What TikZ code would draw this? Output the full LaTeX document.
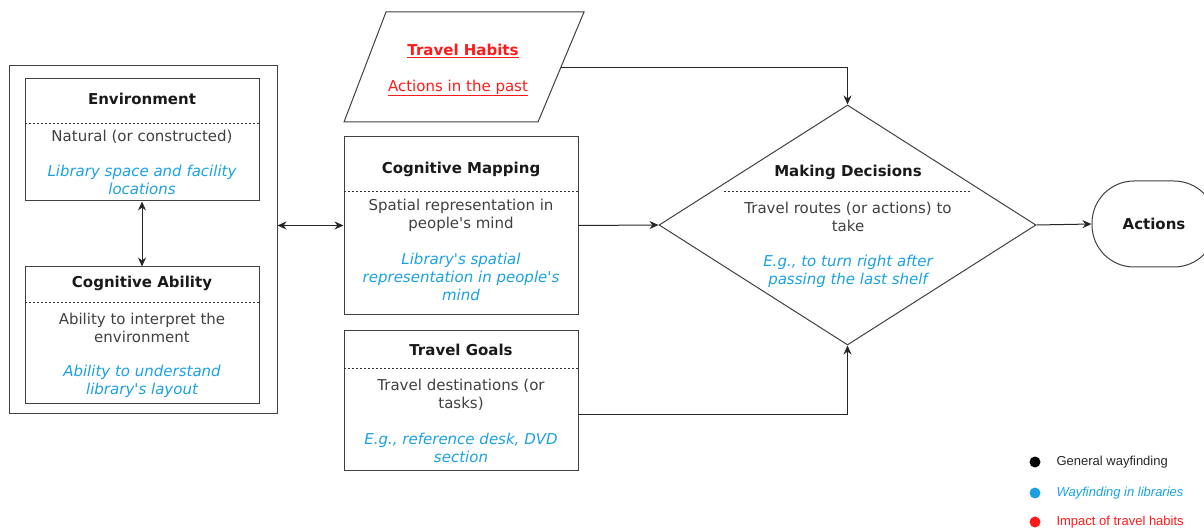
\documentclass[tikz,border=0pt]{standalone}
\usepackage{fontspec}
\setmainfont{DejaVu Sans}[Ligatures=TeXOff]
\newfontfamily\legendfont{Liberation Sans}
\usetikzlibrary{shapes.geometric,arrows.meta}
\definecolor{libblue}{HTML}{1BA1E2}
\definecolor{habred}{HTML}{FF1A1A}
\definecolor{txtgray}{HTML}{404040}
\begin{document}
\begin{tikzpicture}[x=1pt,y=-1pt,
 box/.style={draw=black!75,line width=1pt,inner sep=0pt,minimum width=234pt},
 ttl/.style={font=\fontsize{15}{18}\selectfont\bfseries,text=black!90,align=center},
 gen/.style={font=\fontsize{15}{18}\selectfont,text=txtgray,align=center},
 lib/.style={font=\fontsize{15}{18}\selectfont\itshape,text=libblue,align=center},
 hab/.style={font=\fontsize{15}{18}\selectfont,text=habred,align=center},
 sepline/.style={draw=black!80,dash pattern=on 2pt off 2pt,line width=0.8pt},
 conn/.style={draw=black!85,line width=1pt,-{Stealth[length=9pt,width=8pt]}},
 dconn/.style={draw=black!85,line width=1pt,{Stealth[length=9pt,width=8pt]}-{Stealth[length=9pt,width=8pt]}},
 leg/.style={font=\legendfont\fontsize{13}{15}\selectfont,anchor=west}
]
\useasboundingbox (0,0) rectangle (1204,529);

% left group
\node[box,minimum width=268pt,minimum height=347pt] (outer) at (143,239.5) {};
\node[box,minimum height=122pt] (env) at (142,140) {};
\node[ttl] (envT) at (142,99) {Environment};
\draw[sepline] (25,123) -- (259,123);
\node[gen] (envG) at (142,137) {Natural (or constructed)};
\node[lib] (envL) at (142,180) {Library space and facility\\locations};

\node[box,minimum height=136pt] (ca) at (142,335) {};
\node[ttl] (caT) at (142,283) {Cognitive Ability};
\draw[sepline] (25,302) -- (259,302);
\node[gen] (caG) at (142,328) {Ability to interpret the\\environment};
\node[lib] (caL) at (142,381) {Ability to understand\\library's layout};

\draw[dconn] (env.south) -- (ca.north);

% travel habits
\draw[draw=black!75,line width=1pt] (386,12) coordinate (thA) -- (584,12) coordinate (thB)
  -- (538,122) coordinate (thC) -- (344,122) coordinate (thD) -- cycle;
\coordinate (thR) at (560.6,68);
\node[hab,font=\fontsize{15}{18}\selectfont\bfseries] (thT) at (463,51) {\underline{Travel Habits}};
\node[hab] (thS) at (458,88) {\underline{Actions in the past}};

% cognitive mapping
\node[box,minimum height=177pt] (cm) at (461,225.5) {};
\node[ttl] (cmT) at (461,169) {Cognitive Mapping};
\draw[sepline] (344,191) -- (578,191);
\node[gen] (cmG) at (461,215) {Spatial representation in\\people's mind};
\node[lib] (cmL) at (461,277) {Library's spatial\\representation in people's\\mind};

% travel goals
\node[box,minimum height=140pt] (tg) at (461,400) {};
\node[ttl] (tgT) at (461,350) {Travel Goals};
\draw[sepline] (344,368) -- (578,368);
\node[gen] (tgG) at (461,395) {Travel destinations (or\\tasks)};
\node[lib] (tgL) at (461,448) {E.g., reference desk, DVD\\section};

% making decisions
\node[draw=black!75,line width=1pt,diamond,inner sep=0pt,minimum width=377pt,minimum height=240pt] (md) at (847.5,225) {};
\node[ttl] (mdT) at (848,172) {Making Decisions};
\draw[sepline] (724,191) -- (970,191);
\node[gen] (mdG) at (848,217) {Travel routes (or actions) to\\take};
\node[lib] (mdL) at (848,271) {E.g., to turn right after\\passing the last shelf};

% actions
\node[draw=black!75,line width=1pt,rounded corners=42pt,minimum width=124pt,minimum height=86pt,inner sep=0pt] (act) at (1154,224) {};
\node[ttl] (actT) at (1154,224) {Actions};

% connectors
\draw[dconn] (outer.east |- cm.west) -- (cm.west);
\draw[conn] (cm.east) -- (md.west);
\draw[conn] (thR) -| (md.north);
\draw[conn] ([yshift=-14pt]tg.east) -| (md.south);
\draw[conn] (md.east) -- (act.west);

% legend
\fill[black] (1035,462) circle (5.5pt);
\node[leg,text=black!85] (l1) at (1053,462) {General wayfinding};
\fill[libblue] (1035,493) circle (5.5pt);
\node[leg,text=libblue,font=\legendfont\itshape\fontsize{13}{15}\selectfont] (l2) at (1053,493) {Wayfinding in libraries};
\fill[habred] (1035,522) circle (5.5pt);
\node[leg,text=habred] (l3) at (1053,522) {Impact of travel habits};
\end{tikzpicture}
\end{document}
